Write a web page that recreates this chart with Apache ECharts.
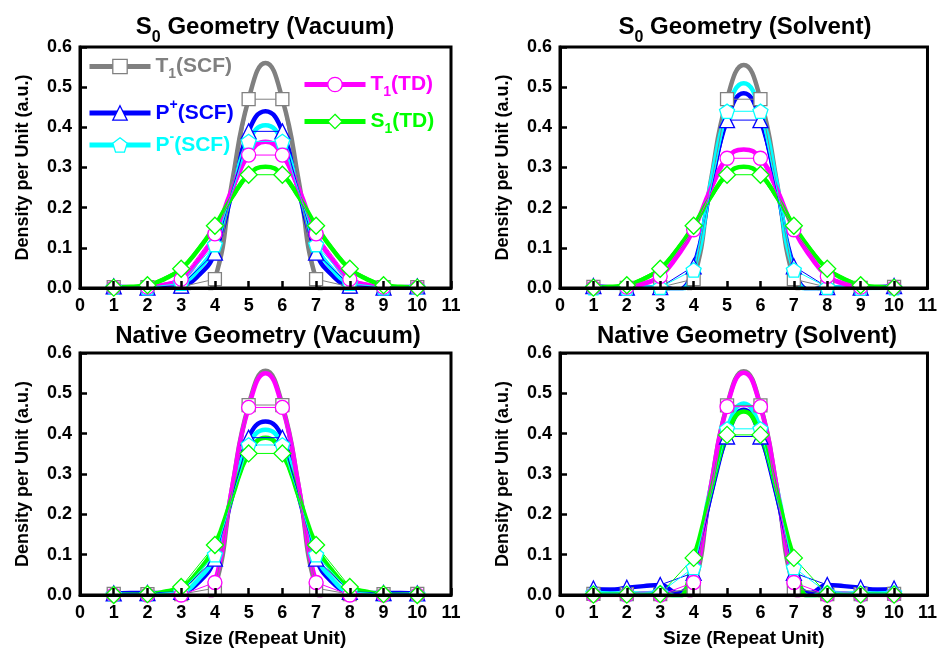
<!DOCTYPE html>
<html><head><meta charset="utf-8">
<script src="https://cdn.jsdelivr.net/npm/echarts@6/dist/echarts.min.js"></script>
<style>html,body{margin:0;padding:0;background:#fff}#c{width:940px;height:650px}</style>
</head><body><div id="c"></div><script>
// ---------------- DATA ----------------
const X_MARK = [1, 2, 3, 4, 5, 6, 7, 8, 9, 10];
const X_FIT = [1, 1.5, 2, 2.5, 3, 3.5, 4, 4.5, 5, 5.5, 6, 6.5, 7, 7.5, 8, 8.5, 9, 9.5, 10];
const X_TICKS = [0, 1, 2, 3, 4, 5, 6, 7, 8, 9, 10, 11];
const Y_TICKS = [0.0, 0.1, 0.2, 0.3, 0.4, 0.5, 0.6];
const SERIES_NAMES = ['T1(SCF)', 'P+(SCF)', 'P-(SCF)', 'T1(TD)', 'S1(TD)'];
const PANEL_TITLES = ['S0 Geometry (Vacuum)', 'S0 Geometry (Solvent)', 'Native Geometry (Vacuum)', 'Native Geometry (Solvent)'];
const X_NAME = 'Size (Repeat Unit)';
const Y_NAME = 'Density per Unit (a.u.)';

// Panel A: S0 Geometry (Vacuum) - markers
const a_T1SCF = [0.002, 0.002, 0.003, 0.022, 0.470, 0.470, 0.022, 0.003, 0.002, 0.002];
const a_PpSCF = [0.004, 0.001, 0.006, 0.088, 0.390, 0.390, 0.088, 0.006, 0.001, 0.004];
const a_PmSCF = [0.002, 0.001, 0.012, 0.108, 0.365, 0.365, 0.108, 0.012, 0.001, 0.002];
const a_T1TD  = [0.001, 0.002, 0.022, 0.135, 0.331, 0.331, 0.135, 0.022, 0.002, 0.001];
const a_S1TD  = [0.001, 0.007, 0.048, 0.155, 0.282, 0.282, 0.155, 0.048, 0.007, 0.001];
// Panel A - fitted curves
const a_T1SCF_fit = [0.002, 0.002, 0.002, 0.003, 0.003, -0.030, 0.022, 0.260, 0.470, 0.560, 0.470, 0.260, 0.022, -0.030, 0.003, 0.003, 0.002, 0.002, 0.002];
const a_PpSCF_fit = [0.004, 0.002, 0.001, 0.002, 0.006, 0.030, 0.088, 0.235, 0.390, 0.440, 0.390, 0.235, 0.088, 0.030, 0.006, 0.002, 0.001, 0.002, 0.004];
const a_PmSCF_fit = [0.002, 0.001, 0.001, 0.004, 0.012, 0.045, 0.108, 0.240, 0.365, 0.405, 0.365, 0.240, 0.108, 0.045, 0.012, 0.004, 0.001, 0.001, 0.002];
const a_T1TD_fit  = [0.001, 0.001, 0.002, 0.008, 0.022, 0.068, 0.135, 0.245, 0.331, 0.364, 0.331, 0.245, 0.135, 0.068, 0.022, 0.008, 0.002, 0.001, 0.001];
const a_S1TD_fit  = [0.001, 0.003, 0.007, 0.022, 0.048, 0.095, 0.155, 0.225, 0.282, 0.302, 0.282, 0.225, 0.155, 0.095, 0.048, 0.022, 0.007, 0.003, 0.001];

// Panel B: S0 Geometry (Solvent) - markers
const b_T1SCF = [0.003, 0.000, 0.002, 0.022, 0.470, 0.470, 0.022, 0.002, 0.000, 0.003];
const b_PpSCF = [0.005, 0.001, 0.002, 0.054, 0.418, 0.418, 0.054, 0.002, 0.001, 0.005];
const b_PmSCF = [0.001, 0.000, 0.002, 0.045, 0.440, 0.440, 0.045, 0.002, 0.000, 0.001];
const b_T1TD  = [0.001, 0.002, 0.029, 0.145, 0.323, 0.323, 0.145, 0.029, 0.002, 0.001];
const b_S1TD  = [0.001, 0.007, 0.048, 0.155, 0.282, 0.282, 0.155, 0.048, 0.007, 0.001];
// Panel B - fitted curves
const b_T1SCF_fit = [0.003, 0.001, 0.000, 0.001, 0.002, -0.030, 0.022, 0.260, 0.470, 0.555, 0.470, 0.260, 0.022, -0.030, 0.002, 0.001, 0.000, 0.001, 0.003];
const b_PpSCF_fit = [0.005, 0.002, 0.001, 0.001, 0.002, -0.005, 0.054, 0.245, 0.418, 0.485, 0.418, 0.245, 0.054, -0.005, 0.002, 0.001, 0.001, 0.002, 0.005];
const b_PmSCF_fit = [0.001, 0.000, 0.000, 0.001, 0.002, -0.008, 0.045, 0.255, 0.440, 0.510, 0.440, 0.255, 0.045, -0.008, 0.002, 0.001, 0.000, 0.000, 0.001];
const b_T1TD_fit  = [0.001, 0.001, 0.002, 0.010, 0.029, 0.078, 0.145, 0.245, 0.323, 0.345, 0.323, 0.245, 0.145, 0.078, 0.029, 0.010, 0.002, 0.001, 0.001];
const b_S1TD_fit  = [0.001, 0.003, 0.007, 0.022, 0.048, 0.095, 0.155, 0.225, 0.282, 0.302, 0.282, 0.225, 0.155, 0.095, 0.048, 0.022, 0.007, 0.003, 0.001];

// Panel C: Native Geometry (Vacuum) - markers
const c_T1SCF = [0.003, 0.002, 0.002, 0.017, 0.471, 0.471, 0.017, 0.002, 0.002, 0.003];
const c_PpSCF = [0.004, 0.005, 0.008, 0.090, 0.390, 0.390, 0.090, 0.008, 0.005, 0.004];
const c_PmSCF = [0.002, 0.002, 0.008, 0.100, 0.372, 0.372, 0.100, 0.008, 0.002, 0.002];
const c_T1TD  = [0.000, 0.000, 0.000, 0.031, 0.465, 0.465, 0.031, 0.000, 0.000, 0.000];
const c_S1TD  = [0.000, 0.002, 0.020, 0.124, 0.351, 0.351, 0.124, 0.020, 0.002, 0.000];
// Panel C - fitted curves
const c_T1SCF_fit = [0.003, 0.002, 0.002, 0.003, 0.002, -0.035, 0.017, 0.262, 0.471, 0.556, 0.471, 0.262, 0.017, -0.035, 0.002, 0.003, 0.002, 0.002, 0.003];
const c_PpSCF_fit = [0.004, 0.005, 0.005, 0.005, 0.008, 0.030, 0.090, 0.240, 0.390, 0.430, 0.390, 0.240, 0.090, 0.030, 0.008, 0.005, 0.005, 0.005, 0.004];
const c_PmSCF_fit = [0.002, 0.002, 0.002, 0.004, 0.008, 0.038, 0.100, 0.245, 0.372, 0.410, 0.372, 0.245, 0.100, 0.038, 0.008, 0.004, 0.002, 0.002, 0.002];
const c_T1TD_fit  = [0.000, 0.000, 0.000, 0.003, 0.000, -0.045, 0.031, 0.262, 0.465, 0.550, 0.465, 0.262, 0.031, -0.045, 0.000, 0.003, 0.000, 0.000, 0.000];
const c_S1TD_fit  = [0.000, 0.001, 0.002, 0.008, 0.020, 0.058, 0.124, 0.240, 0.351, 0.390, 0.351, 0.240, 0.124, 0.058, 0.020, 0.008, 0.002, 0.001, 0.000];

// Panel D: Native Geometry (Solvent) - markers
const d_T1SCF = [0.003, 0.002, 0.002, 0.017, 0.470, 0.470, 0.017, 0.002, 0.002, 0.003];
const d_PpSCF = [0.016, 0.018, 0.025, 0.055, 0.393, 0.393, 0.055, 0.025, 0.018, 0.016];
const d_PmSCF = [0.005, 0.004, 0.006, 0.068, 0.412, 0.412, 0.068, 0.006, 0.004, 0.005];
const d_T1TD  = [0.000, 0.000, 0.000, 0.031, 0.467, 0.467, 0.031, 0.000, 0.000, 0.000];
const d_S1TD  = [0.001, 0.001, 0.002, 0.092, 0.397, 0.397, 0.092, 0.002, 0.001, 0.001];
// Panel D - fitted curves
const d_T1SCF_fit = [0.003, 0.002, 0.002, 0.003, 0.002, -0.035, 0.017, 0.262, 0.470, 0.555, 0.470, 0.262, 0.017, -0.035, 0.002, 0.003, 0.002, 0.002, 0.003];
const d_PpSCF_fit = [0.016, 0.013, 0.018, 0.022, 0.025, 0.005, 0.055, 0.245, 0.393, 0.459, 0.393, 0.245, 0.055, 0.005, 0.025, 0.022, 0.018, 0.013, 0.016];
const d_PmSCF_fit = [0.005, 0.004, 0.004, 0.004, 0.006, -0.004, 0.068, 0.262, 0.412, 0.475, 0.412, 0.262, 0.068, -0.004, 0.006, 0.004, 0.004, 0.004, 0.005];
const d_T1TD_fit  = [0.000, 0.000, 0.000, 0.003, 0.000, -0.045, 0.031, 0.262, 0.467, 0.551, 0.467, 0.262, 0.031, -0.045, 0.000, 0.003, 0.000, 0.000, 0.000];
const d_S1TD_fit  = [0.001, 0.001, 0.001, 0.000, 0.002, -0.006, 0.092, 0.250, 0.397, 0.455, 0.397, 0.250, 0.092, -0.006, 0.002, 0.000, 0.001, 0.001, 0.001];

const PANEL_MARKS = [
  [a_T1SCF, a_PpSCF, a_PmSCF, a_T1TD, a_S1TD],
  [b_T1SCF, b_PpSCF, b_PmSCF, b_T1TD, b_S1TD],
  [c_T1SCF, c_PpSCF, c_PmSCF, c_T1TD, c_S1TD],
  [d_T1SCF, d_PpSCF, d_PmSCF, d_T1TD, d_S1TD]
];
const PANEL_FITS = [
  [a_T1SCF_fit, a_PpSCF_fit, a_PmSCF_fit, a_T1TD_fit, a_S1TD_fit],
  [b_T1SCF_fit, b_PpSCF_fit, b_PmSCF_fit, b_T1TD_fit, b_S1TD_fit],
  [c_T1SCF_fit, c_PpSCF_fit, c_PmSCF_fit, c_T1TD_fit, c_S1TD_fit],
  [d_T1SCF_fit, d_PpSCF_fit, d_PmSCF_fit, d_T1TD_fit, d_S1TD_fit]
];

// ---------------- STYLE / LAYOUT ----------------
const FONT = '"Liberation Sans", Arial, Helvetica, sans-serif';
const COLORS = ['#808080', '#0000FF', '#00FFFF', '#FF00FF', '#00FF00'];
const PENTAGON = 'path://M0,-1 L0.951,-0.309 L0.588,0.809 L-0.588,0.809 L-0.951,-0.309 Z';
const SYMBOLS = ['rect', 'triangle', PENTAGON, 'circle', 'diamond'];
const SYM_SIZES = [13, 15, 15, 14, 17];
const GRIDS = [
  { left: 80, top: 47, width: 371, height: 241 },
  { left: 560, top: 47, width: 370, height: 241 },
  { left: 80, top: 353, width: 371, height: 242 },
  { left: 560, top: 353, width: 370, height: 242 }
];
const TITLE_POS = [[265, 8], [745, 8], [268, 317], [747, 317]];
const LEGEND_POS = [[87, 56], [87, 98], [87, 130], [302, 74], [302, 111]];

function richName(name) {
  return name
    .replace(/^T1/, '{m|T}{s|1}{m|').replace(/^S1/, '{m|S}{s|1}{m|')
    .replace(/^P\+/, '{m|P}{p|+}{m|').replace(/^P-/, '{m|P}{p|-}{m|') + '}';
}
function richTitle(t) {
  if (t.indexOf('S0') === 0) return '{m|S}{s|0}{m|' + t.slice(2) + '}';
  return '{m|' + t + '}';
}

const chart = echarts.init(document.getElementById('c'), null, { renderer: 'canvas' });

const grid = GRIDS.map(g => Object.assign({ show: true, borderColor: '#000', borderWidth: 3, backgroundColor: 'transparent', z: 10 }, g));

const axisLabelStyle = { color: '#000', fontSize: 18, fontWeight: 'bold', fontFamily: FONT };
const xAxis = GRIDS.map((g, p) => ({
  type: 'value', gridIndex: p, min: X_TICKS[0], max: X_TICKS[X_TICKS.length - 1], interval: 1,
  axisLine: { show: true, onZero: false, lineStyle: { color: '#000', width: 3 } },
  axisTick: { show: true, inside: true, length: 7, lineStyle: { color: '#000', width: 2.5 } },
  axisLabel: Object.assign({ margin: 9, showMinLabel: true, showMaxLabel: true }, axisLabelStyle),
  splitLine: { show: false },
  name: p >= 2 ? X_NAME : '', nameLocation: 'middle', nameGap: 34,
  nameTextStyle: { color: '#000', fontSize: 19, fontWeight: 'bold', fontFamily: FONT },
  z: 10
}));
const yAxis = GRIDS.map((g, p) => ({
  type: 'value', gridIndex: p, min: Y_TICKS[0], max: Y_TICKS[Y_TICKS.length - 1], interval: 0.1,
  axisLine: { show: true, onZero: false, lineStyle: { color: '#000', width: 3 } },
  axisTick: { show: true, inside: true, length: 7, lineStyle: { color: '#000', width: 2.5 } },
  axisLabel: Object.assign({ margin: 8, showMinLabel: true, showMaxLabel: true, formatter: v => v.toFixed(1) }, axisLabelStyle),
  splitLine: { show: false },
  name: Y_NAME, nameLocation: 'middle', nameGap: 48,
  nameTextStyle: { color: '#000', fontSize: 18, fontWeight: 'bold', fontFamily: FONT },
  z: 10
}));

const series = [];
// marker series first (legend icon uses first series with the name)
PANEL_MARKS.forEach((set, p) => {
  set.forEach((vals, k) => {
    series.push({
      type: 'line', name: SERIES_NAMES[k], xAxisIndex: p, yAxisIndex: p,
      data: X_MARK.map((x, i) => [x, vals[i]]),
      symbol: SYMBOLS[k], symbolSize: SYM_SIZES[k], symbolKeepAspect: true,
      showSymbol: true, showAllSymbol: true,
      lineStyle: { color: COLORS[k], width: 1 },
      itemStyle: { color: '#fff', borderColor: COLORS[k], borderWidth: 1.3 },
      z: 4, animation: false, silent: true
    });
  });
});
PANEL_FITS.forEach((set, p) => {
  set.forEach((vals, k) => {
    series.push({
      type: 'line', name: SERIES_NAMES[k], xAxisIndex: p, yAxisIndex: p,
      data: X_FIT.map((x, i) => [x, vals[i]]),
      smooth: 0.5, symbol: 'none', showSymbol: false,
      lineStyle: { color: COLORS[k], width: 4.5 },
      itemStyle: { color: COLORS[k] },
      z: 3, animation: false, silent: true
    });
  });
});

const title = PANEL_TITLES.map((t, p) => ({
  text: richTitle(t), left: TITLE_POS[p][0], top: TITLE_POS[p][1], textAlign: 'center', padding: 0,
  textStyle: {
    rich: {
      m: { fontSize: 24, fontWeight: 'bold', fontFamily: FONT, color: '#000', lineHeight: 38 },
      s: { fontSize: 16, fontWeight: 'bold', fontFamily: FONT, color: '#000', verticalAlign: 'bottom' }
    }
  }
}));

const legend = SERIES_NAMES.map((n, k) => ({
  show: true, selectedMode: false, orient: 'horizontal',
  left: LEGEND_POS[k][0], top: LEGEND_POS[k][1], padding: 0,
  itemWidth: 61, itemHeight: 18, itemGap: 0,
  data: [n],
  lineStyle: { color: COLORS[k], width: 5 },
  itemStyle: { color: '#fff', borderColor: COLORS[k], borderWidth: 1.3 },
  formatter: richName,
  textStyle: {
    rich: {
      m: { fontSize: 21, fontWeight: 'bold', fontFamily: FONT, color: COLORS[k], lineHeight: 30 },
      s: { fontSize: 14, fontWeight: 'bold', fontFamily: FONT, color: COLORS[k], verticalAlign: 'bottom' },
      p: { fontSize: 14, fontWeight: 'bold', fontFamily: FONT, color: COLORS[k], verticalAlign: 'top' }
    }
  }
}));

chart.setOption({
  backgroundColor: '#fff',
  animation: false,
  title, legend, grid, xAxis, yAxis, series
});
</script></body></html>
